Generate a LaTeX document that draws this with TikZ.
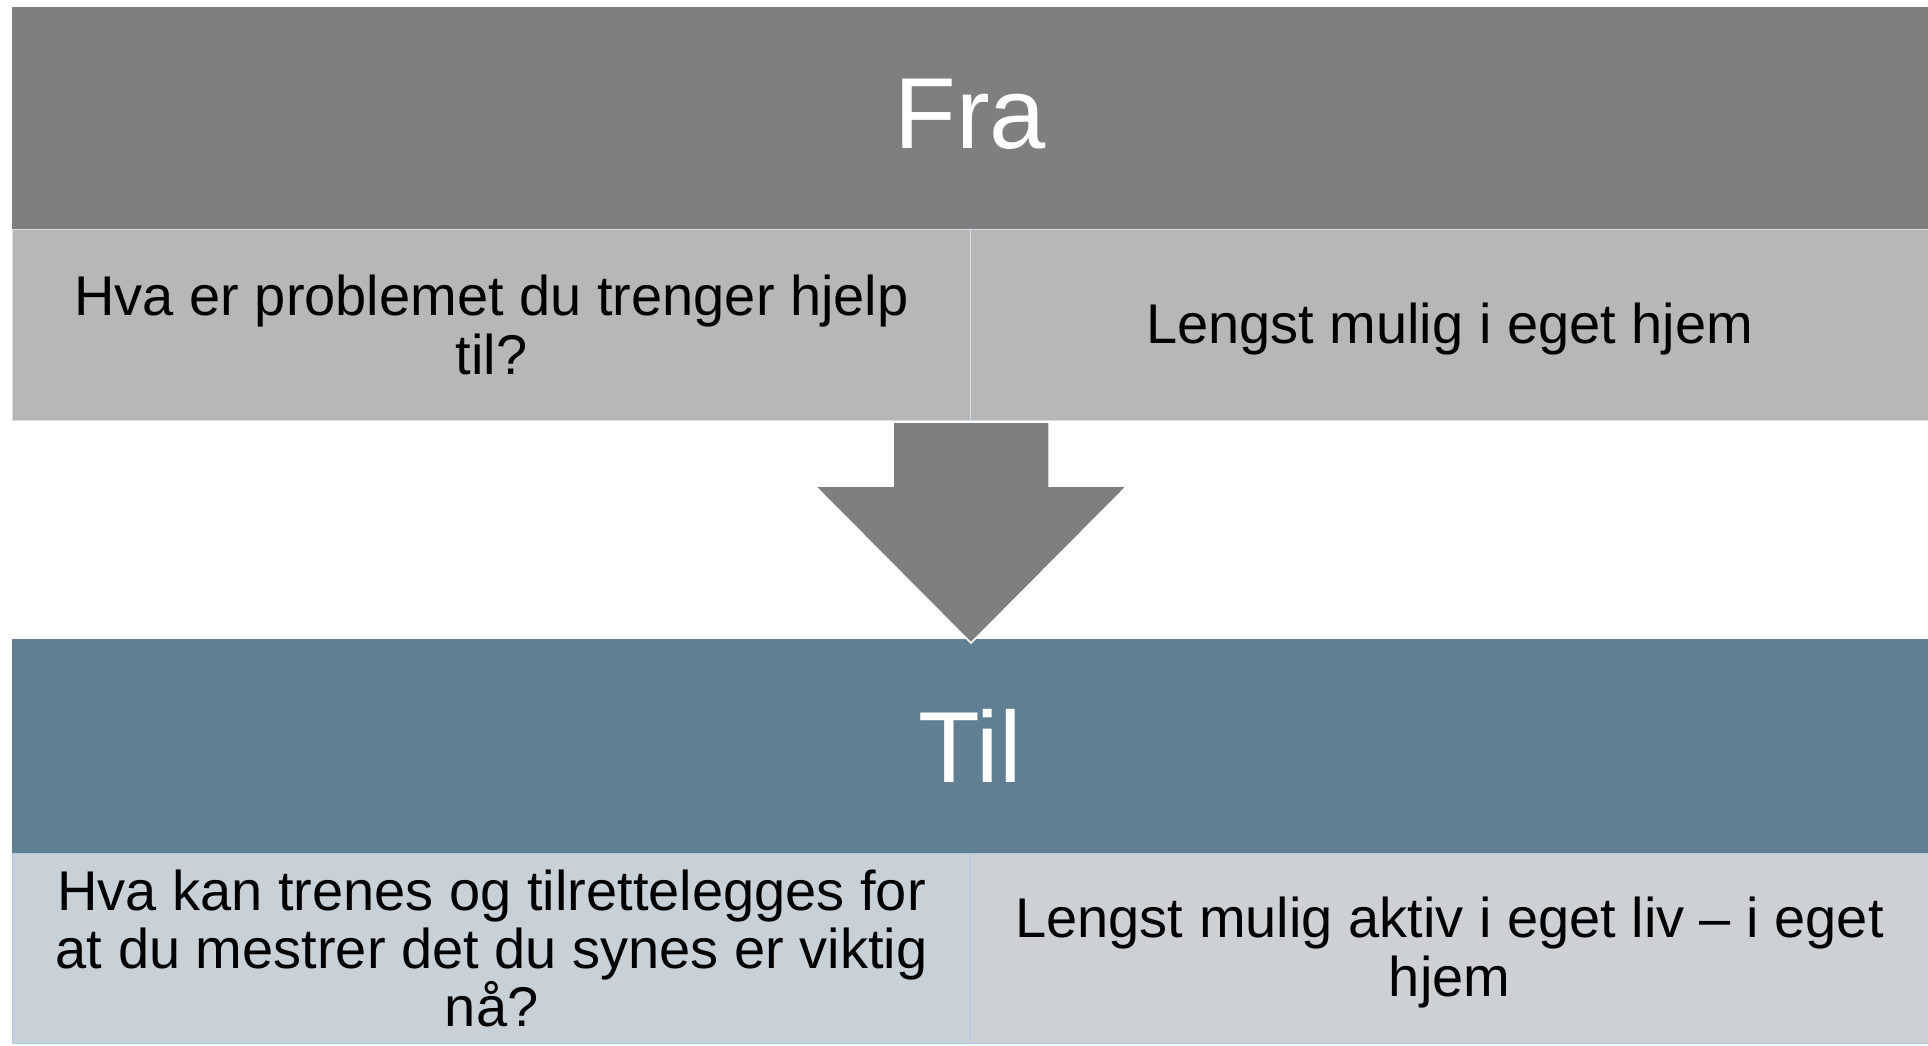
\documentclass[tikz,border=0pt]{standalone}
\usepackage{fontspec}
\setmainfont{Liberation Sans}
\definecolor{darkgr}{HTML}{7F7F7F}
\definecolor{midgr}{HTML}{B7B7B7}
\definecolor{tilblue}{HTML}{617F92}
\definecolor{lowleft}{HTML}{C8D0D8}
\definecolor{lowright}{HTML}{CDD1D4}
\definecolor{edgeA}{HTML}{D3DEEA}
\definecolor{edgeB}{HTML}{A9C8E4}
\begin{document}
\begin{tikzpicture}[x=1pt,y=-1pt,
  band/.style={anchor=north west, inner sep=0pt, minimum width=1916pt, minimum height=#1},
  cell/.style={anchor=north west, inner sep=0pt, minimum width=958pt, minimum height=#1},
  bigtxt/.style={text=white, font=\fontsize{101}{110}\selectfont, inner sep=0pt},
  bodytxt/.style={text=black, align=center, font=\fontsize{56}{59}\selectfont, inner sep=0pt},
]
\useasboundingbox (0,0) rectangle (1928,1045);
% top band
\node[band=222pt, fill=darkgr] (fra) at (12,7) {};
\node[bigtxt] (fratxt) at ([yshift=4pt]fra.center) {Fra};
% row 1
\node[cell=191pt, fill=midgr, draw=edgeA, line width=1.2pt] (r1l) at (12,229) {};
\node[cell=191pt, fill=midgr, draw=edgeA, line width=1.2pt] (r1r) at (970,229) {};
\node[bodytxt] (t1l) at (r1l.center) {Hva er problemet du trenger hjelp\\til?};
\node[bodytxt] (t1r) at ([yshift=-4pt]r1r.center) {Lengst mulig i eget hjem};
% til band
\node[band=214pt, fill=tilblue] (til) at (12,639) {};
\node[bigtxt] (tiltxt) at (til.center) {Til};
% row 2
\node[cell=190pt, fill=lowleft, draw=edgeB, line width=1.2pt] (r2l) at (12,853) {};
\node[cell=190pt, fill=lowright, draw=edgeB, line width=1.2pt] (r2r) at (970,853) {};
\node[bodytxt, font=\fontsize{56}{58}\selectfont] (t2l) at (r2l.center) {Hva kan trenes og tilrettelegges for\\at du mestrer det du synes er viktig\\nå?};
\node[bodytxt] (t2r) at ([yshift=-4pt]r2r.center) {Lengst mulig aktiv i eget liv – i eget\\hjem};
% arrow
\fill[darkgr, draw=white, line width=1.5pt]
  (893,422) -- (1049,422) -- (1049,486) -- (1127,486) -- (971,643)
  -- (815,486) -- (893,486) -- cycle;
\end{tikzpicture}
\end{document}
